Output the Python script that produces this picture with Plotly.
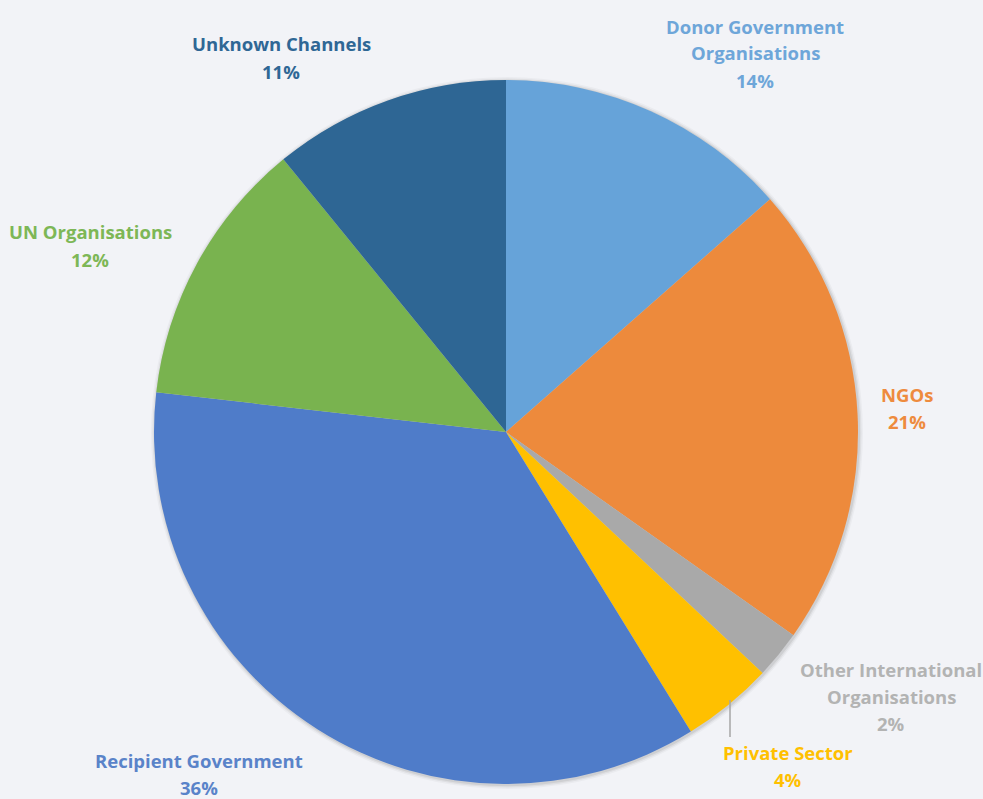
import plotly.graph_objects as go

W, H = 983, 799

# ---- data ----
channels = [
    "Donor Government Organisations",
    "NGOs",
    "Other International Organisations",
    "Private Sector",
    "Recipient Government",
    "UN Organisations",
    "Unknown Channels",
]
shares = [13.5, 21.3, 2.2, 4.2, 35.6, 12.3, 10.9]
colors = ["#66a3d9", "#ed8a3c", "#a9a9a9", "#ffc000", "#4f7cc9", "#79b34f", "#2e6694"]
text_colors = ["#6ea6d9", "#ee8b3e", "#b3b3b3", "#ffc000", "#5a83c9", "#7db756", "#2f6795"]
# displayed percentage labels (as printed on the reference)
pct_labels = ["14%", "21%", "2%", "4%", "36%", "12%", "11%"]
# label line breaks as in the reference
label_lines = [
    ["Donor Government", "Organisations"],
    ["NGOs"],
    ["Other International", "Organisations"],
    ["Private Sector"],
    ["Recipient Government"],
    ["UN Organisations"],
    ["Unknown Channels"],
]
# label anchor (pixel centre of first line)
label_pos = [(755, 26), (907, 394), (891, 669), (788, 752), (199, 760), (90, 232), (281, 44)]

# ---- geometry ----
cx, cy, r = 506, 432, 352
dom_x = [(cx - r) / W, (cx + r) / W]
dom_y = [1 - (cy + r) / H, 1 - (cy - r) / H]

fig = go.Figure(
    go.Pie(
        labels=channels,
        values=shares,
        sort=False,
        direction="clockwise",
        rotation=0,
        marker=dict(colors=colors, line=dict(width=0)),
        textinfo="none",
        hoverinfo="label+percent",
        domain=dict(x=dom_x, y=dom_y),
        showlegend=False,
    )
)

step = 27
FONT = "Open Sans"
for lines, pl, (px, py), tc in zip(label_lines, pct_labels, label_pos, text_colors):
    all_lines = lines + [pl]
    for i, t in enumerate(all_lines):
        fig.add_annotation(
            x=px / W, y=1 - (py + i * step) / H, xref="paper", yref="paper",
            text=f"<b>{t}</b>", showarrow=False, xanchor="center", yanchor="middle",
            font=dict(family=FONT, size=18.5, color=tc),
        )

# leader line for Private Sector
fig.add_shape(type="line", xref="paper", yref="paper",
              x0=730 / W, x1=730 / W, y0=1 - 700 / H, y1=1 - 737 / H,
              line=dict(color="#a6a6a6", width=1.5))

# soft shadow behind the pie
for d, a in [(4, 0.03), (2.5, 0.05), (1.2, 0.07)]:
    fig.add_shape(type="circle", xref="paper", yref="paper", layer="below",
                  x0=(cx - r - d + 1) / W, x1=(cx + r + d + 1) / W,
                  y0=1 - (cy + r + d + 1) / H, y1=1 - (cy - r - d + 1) / H,
                  fillcolor=f"rgba(0,0,0,{a})", line=dict(width=0))

fig.update_layout(
    width=W, height=H,
    margin=dict(l=0, r=0, t=0, b=0),
    paper_bgcolor="#f2f3f7",
    plot_bgcolor="#f2f3f7",
)

fig.write_html(
    "out.html",
    config={"displayModeBar": False},
    post_script="document.body.style.margin='0';document.body.style.overflow='hidden';",
)
